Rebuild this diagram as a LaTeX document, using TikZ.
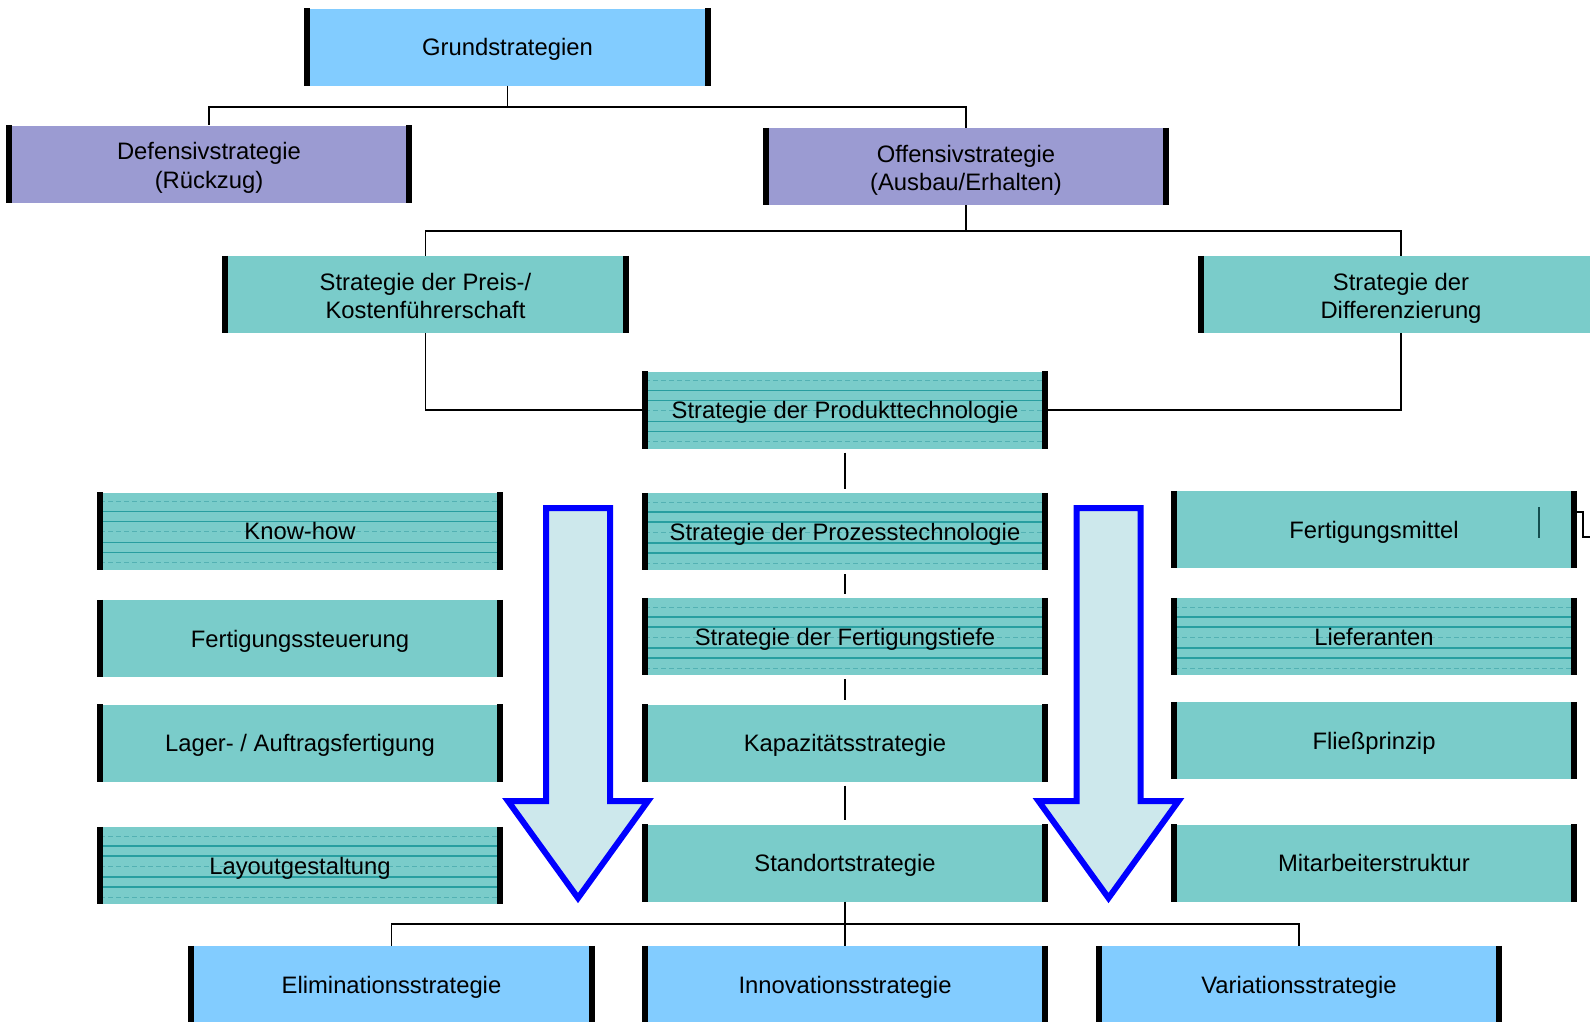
\documentclass[tikz,border=0pt]{standalone}
\usepackage{fontspec}
\setmainfont{Liberation Sans}
\usetikzlibrary{calc,positioning}
\definecolor{grundblau}{RGB}{130,204,255}
\definecolor{lila}{RGB}{155,155,210}
\definecolor{tuerkis}{RGB}{122,204,202}
\definecolor{linie}{RGB}{40,158,160}
\definecolor{pfeilfuell}{RGB}{205,232,236}
\definecolor{pfeilrand}{RGB}{0,0,255}

\begin{document}
\begin{tikzpicture}[x=1pt, y=-1pt]
\tikzstyle{every node}=[rectangle, inner sep=0pt, minimum width=400pt,
                        minimum height=77pt, align=center,
                        text height=17pt, text depth=0pt,
                        font={\fontsize{23.8}{28.5}\selectfont}]
\tikzstyle{zweizeilig}=[text height=48pt]
\tikzstyle{blau}=[fill=grundblau]
\tikzstyle{violett}=[fill=lila, zweizeilig]
\tikzstyle{gruen}=[fill=tuerkis]
\tikzstyle{liniert}=[fill=tuerkis, path picture={
  \foreach \o in {9,39,70}
    \draw[linie!80, line width=1pt, dash pattern=on 5pt off 3pt]
      ($(path picture bounding box.north west)+(0,\o)$) -- ($(path picture bounding box.north east)+(0,\o)$);
  \foreach \o in {19,29,50,60}
    \draw[linie, line width=1.2pt]
      ($(path picture bounding box.north west)+(0,\o)$) -- ($(path picture bounding box.north east)+(0,\o)$);
}]
\tikzstyle{kante}=[line width=6pt]
\tikzstyle{verbindung}=[line width=1.6pt]
\tikzstyle{flusspfeil}=[draw=pfeilrand, fill=pfeilfuell, line width=6pt, line join=miter]

\useasboundingbox (0,0) rectangle (1590,1021);

\node[blau] (grund) at (507.5,47) {Grundstrategien};
\node[violett] (defensiv) at (209,164) {Defensivstrategie\\(Rückzug)};
\node[violett] (offensiv) at (966,166.5) {Offensivstrategie\\(Ausbau/Erhalten)};
\node[gruen, zweizeilig] (preis) at (425.5,294.5) {Strategie der Preis-/\\Kostenführerschaft};
\node[gruen, zweizeilig] (diff) at (1401,294.5) {Strategie der\\Differenzierung};
\node[liniert] (produkt) at (845,410) {Strategie der Produkttechnologie};
\node[liniert] (prozess) at (845,531.5) {Strategie der Prozesstechnologie};
\node[liniert] (tiefe) at (845,636.5) {Strategie der Fertigungstiefe};
\node[gruen] (kapazitaet) at (845,743) {Kapazitätsstrategie};
\node[gruen] (standort) at (845,863) {Standortstrategie};
\node[liniert] (knowhow) at (300,531) {Know-how};
\node[gruen] (steuerung) at (300,638.5) {Fertigungssteuerung};
\node[gruen] (lager) at (300,743) {Lager- / Auftragsfertigung};
\node[liniert] (layout) at (300,865.5) {Layoutgestaltung};
\node[gruen] (mittel) at (1374,529.5) {Fertigungsmittel};
\node[liniert] (lieferanten) at (1374,636.5) {Lieferanten};
\node[gruen] (fliess) at (1374,740.5) {Fließprinzip};
\node[gruen] (mitarbeiter) at (1374,863) {Mitarbeiterstruktur};
\node[blau] (elim) at (391.5,984.5) {Eliminationsstrategie};
\node[blau] (innov) at (845,984.5) {Innovationsstrategie};
\node[blau] (var) at (1299,984.5) {Variationsstrategie};

\foreach \n in {grund,defensiv,offensiv,preis,diff,produkt,prozess,tiefe,kapazitaet,
                standort,knowhow,steuerung,lager,layout,mittel,lieferanten,fliess,
                mitarbeiter,elim,innov,var}
  \draw[kante] (\n.north west) -- (\n.south west) (\n.north east) -- (\n.south east);

\coordinate (busoben) at (507.5,107);
\coordinate (busmitte) at (966,231);
\coordinate (busunten) at (845,924);
\draw[verbindung] (grund.south) -- (busoben) -| (defensiv.north);
\draw[verbindung] (busoben) -| (offensiv.north);
\draw[verbindung] (offensiv.south) -- (busmitte) -| (preis.north);
\draw[verbindung] (busmitte) -| (diff.north);
\draw[verbindung] (preis.south) |- (produkt.west);
\draw[verbindung] (diff.south) |- (produkt.east);
\foreach \a/\b in {produkt/prozess,prozess/tiefe,tiefe/kapazitaet,kapazitaet/standort}
  \draw[verbindung, shorten <=4pt, shorten >=4pt] (\a.south) -- (\b.north);
\draw[verbindung] (standort.south) -- (innov.north);
\draw[verbindung] (elim.north) |- (busunten) -| (var.north);

\draw[linie!50!black, line width=1.5pt] ([xshift=-35pt,yshift=22.5pt]mittel.east) -- ++(0,31);
\draw[verbindung] ([yshift=17.5pt]mittel.east) -- ++(9,0) -- ++(0,25) -- ++(7,0);

\foreach \ax in {578,1108.5}
  \draw[flusspfeil] (\ax-32,508) -- (\ax+32,508) -- (\ax+32,801) -- (\ax+70,801)
    -- (\ax,898) -- (\ax-70,801) -- (\ax-32,801) -- cycle;
\end{tikzpicture}
\end{document}
